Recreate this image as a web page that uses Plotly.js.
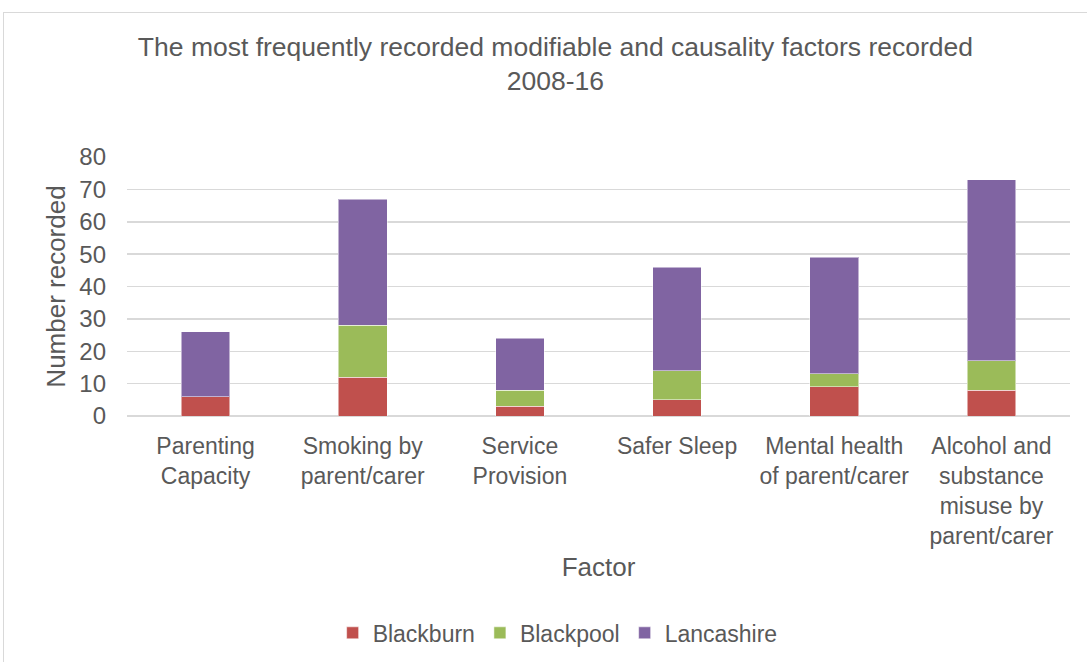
<!DOCTYPE html>
<html>
<head>
<meta charset="utf-8">
<script src="https://cdn.plot.ly/plotly-3.0.1.min.js"></script>
<style>
  html, body { margin: 0; padding: 0; background: #ffffff; overflow: hidden; }
  #frame { position: absolute; left: 3px; top: 12px; width: 1083px; height: 649px; border-left: 1px solid #d9d9d9; border-top: 1px solid #d9d9d9; }
  #chart { position: absolute; left: 0; top: 0; width: 1087px; height: 662px; }
</style>
</head>
<body>
<div id="frame"></div>
<div id="chart"></div>
<script>
const categories = [
  "Parenting<br>Capacity",
  "Smoking by<br>parent/carer",
  "Service<br>Provision",
  "Safer Sleep",
  "Mental health<br>of parent/carer",
  "Alcohol and<br>substance<br>misuse by<br>parent/carer"
];
const blackburn = [6, 12, 3, 5, 9, 8];
const blackpool = [0, 16, 5, 9, 4, 9];
const lancashire = [20, 39, 16, 32, 36, 56];
const yTicks = [0, 10, 20, 30, 40, 50, 60, 70, 80];

const FONT = "Liberation Sans, Arial, sans-serif";
const GREY = "#595959";

const mk = (name, vals, color) => ({
  type: "bar", name: name, x: categories, y: vals,
  marker: { color: color, line: { color: "rgba(255,255,255,0.5)", width: 1 } },
  hoverinfo: "none"
});

const data = [
  mk("Blackburn", blackburn, "#c0504d"),
  mk("Blackpool", blackpool, "#9bbb59"),
  mk("Lancashire", lancashire, "#8064a2")
];

const layout = {
  width: 1087, height: 662, autosize: false,
  paper_bgcolor: "rgba(0,0,0,0)", plot_bgcolor: "rgba(0,0,0,0)",
  barmode: "stack", bargap: 0.69,
  margin: { l: 127, r: 17, t: 157, b: 246 },
  font: { family: FONT, color: GREY, size: 23 },
  title: {
    text: "The most frequently recorded modifiable and causality factors recorded<br>2008-16",
    font: { family: FONT, size: 26.5, color: GREY },
    x: 0.511, xanchor: "center", y: 0.916, yanchor: "middle"
  },
  xaxis: {
    type: "category", showgrid: false, zeroline: false, showline: false,
    ticks: "", tickfont: { size: 23, color: GREY }, ticklabelstandoff: 14,
    title: { text: "Factor", font: { size: 26, color: GREY }, standoff: 10 },
    automargin: false
  },
  yaxis: {
    range: [0, 80], tickvals: yTicks, ticktext: yTicks.map(String),
    showgrid: true, gridcolor: "#d9d9d9", gridwidth: 1.5,
    zeroline: true, zerolinecolor: "#d9d9d9", zerolinewidth: 1.5,
    ticks: "", tickfont: { size: 24, color: GREY }, ticklabelstandoff: 20,
    title: { text: "Number recorded", font: { size: 26, color: GREY }, standoff: 6 },
    automargin: false
  },
  legend: {
    orientation: "h", x: 0.513, xanchor: "center", xref: "container",
    y: 0.044, yanchor: "middle", yref: "container",
    font: { size: 23, color: GREY }, traceorder: "normal",
    itemwidth: 30
  },
  showlegend: true
};

Plotly.newPlot("chart", data, layout, { displayModeBar: false, staticPlot: true });
</script>
</body>
</html>
